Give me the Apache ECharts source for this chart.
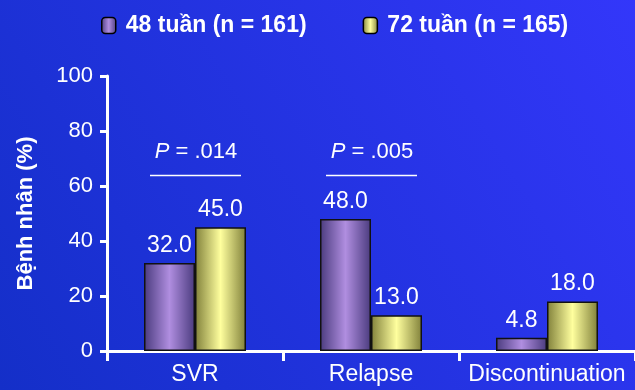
<!DOCTYPE html>
<html><head><meta charset="utf-8">
<script src="https://cdn.jsdelivr.net/npm/echarts@6/dist/echarts.min.js"></script>
<style>html,body{margin:0;padding:0;}#c{width:635px;height:390px;}</style>
</head><body><div id="c"></div>
<script>
var categories = ['SVR', 'Relapse', 'Discontinuation'];
var seriesNames = ['48 tuần (n = 161)', '72 tuần (n = 165)'];
var weeks48 = [32.0, 48.0, 4.8];
var weeks72 = [45.0, 13.0, 18.0];
var yTicks = [0, 20, 40, 60, 80, 100];
var pValues = [{cat: 'SVR', text: '.014'}, {cat: 'Relapse', text: '.005'}];

var FONT = 'Liberation Sans, Arial, sans-serif';
function hGrad(edge, mid) {
  return new echarts.graphic.LinearGradient(0, 0, 1, 0, [
    {offset: 0, color: edge}, {offset: 0.5, color: mid}, {offset: 1, color: edge}
  ]);
}
var purple = hGrad('#4a3b7e', '#b08ee0');
var yellow = hGrad('#80803a', '#ffff9e');

var chart = echarts.init(document.getElementById('c'), null, {renderer: 'canvas'});
var labelStyle = {show: true, position: 'top', distance: 6, color: '#fff', fontSize: 23, fontFamily: FONT,
  formatter: function (p) { return p.value.toFixed(1); }};
chart.setOption({
  animation: false,
  backgroundColor: new echarts.graphic.LinearGradient(1, 0, 0, 1, [
    {offset: 0, color: '#3337fa'}, {offset: 1, color: '#142fc8'}
  ]),
  legend: {
    top: 9, left: 96, itemGap: 56, itemWidth: 14, itemHeight: 16,
    textStyle: {color: '#fff', fontSize: 23, fontWeight: 'bold', fontFamily: FONT, padding: [0, 0, 0, 5]},
    data: [
      {name: seriesNames[0], itemStyle: {color: purple, borderColor: '#000', borderWidth: 1.5}},
      {name: seriesNames[1], itemStyle: {color: yellow, borderColor: '#000', borderWidth: 1.5}}
    ]
  },
  grid: {left: 107, right: -3, top: 76, bottom: 39, containLabel: false},
  xAxis: {
    type: 'category', data: categories,
    axisLine: {lineStyle: {color: '#fff', width: 3}},
    axisTick: {show: true, length: 10, lineStyle: {color: '#fff', width: 3}, interval: 0},
    axisLabel: {color: '#fff', fontSize: 23, fontFamily: FONT, margin: 12, interval: 0}
  },
  yAxis: {
    type: 'value', min: 0, max: 100, interval: 20,
    name: 'Bệnh nhân (%)', nameLocation: 'middle', nameGap: 70, nameRotate: 90,
    nameTextStyle: {color: '#fff', fontSize: 22, fontWeight: 'bold', fontFamily: FONT},
    axisLine: {show: true, lineStyle: {color: '#fff', width: 3}},
    axisTick: {show: true, length: 7, lineStyle: {color: '#fff', width: 3}},
    axisLabel: {color: '#fff', fontSize: 22, fontFamily: FONT, margin: 14,
      formatter: function (v) { return yTicks.indexOf(v) >= 0 ? String(v) : ''; }},
    splitLine: {show: false}
  },
  series: [
    {name: seriesNames[0], type: 'bar', data: weeks48, barWidth: 51, barGap: '0%',
      itemStyle: {color: purple, borderColor: '#111', borderWidth: 1.5}, label: labelStyle},
    {name: seriesNames[1], type: 'bar', data: weeks72, barWidth: 51, barGap: '0%',
      itemStyle: {color: yellow, borderColor: '#111', borderWidth: 1.5}, label: labelStyle}
  ]
});

var elements = [];
pValues.forEach(function (p) {
  var textPt = chart.convertToPixel({gridIndex: 0}, [p.cat, 72.5]);
  var linePt = chart.convertToPixel({gridIndex: 0}, [p.cat, 63.8]);
  elements.push({
    type: 'text', x: textPt[0] + 1, y: textPt[1],
    style: {
      text: '{i|P} = ' + p.text,
      rich: {i: {fontStyle: 'italic', fontSize: 22, fill: '#fff', fontFamily: FONT}},
      fill: '#fff', fontSize: 22, fontFamily: FONT, align: 'center', verticalAlign: 'middle'
    }
  });
  elements.push({
    type: 'line', shape: {x1: linePt[0] - 45, y1: linePt[1], x2: linePt[0] + 46, y2: linePt[1]},
    style: {stroke: '#fff', lineWidth: 1.5}
  });
});
chart.setOption({graphic: elements});
</script>
</body></html>
